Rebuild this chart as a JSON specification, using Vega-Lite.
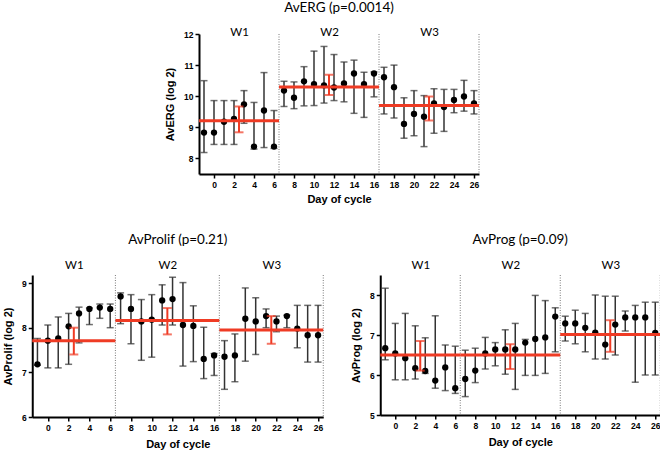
{
  "$schema": "https://vega.github.io/schema/vega-lite/v6.json",
  "padding": {"left": 2, "top": 0, "right": 0, "bottom": 0},
  "background": "white",
  "datasets": {
    "erg": [
      {"day": -1, "value": 8.83, "lower": 8.19, "upper": 10.5},
      {"day": 0, "value": 8.83, "lower": 8.45, "upper": 9.86},
      {"day": 1, "value": 9.18, "lower": 8.45, "upper": 9.86},
      {"day": 2, "value": 9.27, "lower": 8.45, "upper": 9.86},
      {"day": 3, "value": 9.74, "lower": 9.13, "upper": 10.18},
      {"day": 4, "value": 8.38, "lower": 8.3, "upper": 9.8},
      {"day": 5, "value": 9.54, "lower": 8.35, "upper": 10.76},
      {"day": 6, "value": 8.38, "lower": 8.32, "upper": 9.54},
      {"day": 7, "value": 10.18, "lower": 9.67, "upper": 10.48},
      {"day": 8, "value": 9.95, "lower": 9.6, "upper": 10.46},
      {"day": 9, "value": 10.48, "lower": 9.69, "upper": 10.95},
      {"day": 10, "value": 10.39, "lower": 9.7, "upper": 11.45},
      {"day": 11, "value": 10.35, "lower": 9.78, "upper": 11.6},
      {"day": 12, "value": 10.28, "lower": 9.86, "upper": 11.34},
      {"day": 13, "value": 10.41, "lower": 9.82, "upper": 11.1},
      {"day": 14, "value": 10.73, "lower": 9.45, "upper": 11.16},
      {"day": 15, "value": 10.39, "lower": 9.32, "upper": 10.77},
      {"day": 16, "value": 10.73, "lower": 9.98, "upper": 10.78},
      {"day": 17, "value": 10.61, "lower": 9.43, "upper": 10.93},
      {"day": 18, "value": 10.29, "lower": 9.3, "upper": 11.0},
      {"day": 19, "value": 9.11, "lower": 8.65, "upper": 9.95},
      {"day": 20, "value": 9.43, "lower": 8.73, "upper": 10.18},
      {"day": 21, "value": 9.34, "lower": 8.38, "upper": 10.02},
      {"day": 22, "value": 9.77, "lower": 8.81, "upper": 10.24},
      {"day": 23, "value": 9.65, "lower": 8.87, "upper": 10.22},
      {"day": 24, "value": 9.88, "lower": 9.47, "upper": 10.22},
      {"day": 25, "value": 9.99, "lower": 9.52, "upper": 10.51},
      {"day": 26, "value": 9.77, "lower": 9.43, "upper": 10.18}
    ],
    "erg_weeks": [
      {"week": "W1", "start": -1.5, "end": 6.5, "mid": 2.5, "mean": 9.21, "lo": 8.84, "hi": 9.67},
      {"week": "W2", "start": 6.5, "end": 16.5, "mid": 11.5, "mean": 10.3, "lo": 10.04, "hi": 10.69},
      {"week": "W3", "start": 16.5, "end": 26.5, "mid": 21.5, "mean": 9.7, "lo": 9.22, "hi": 9.99}
    ],
    "prolif": [
      {"day": -1, "value": 7.18, "lower": 7.16, "upper": 7.76},
      {"day": 0, "value": 7.71, "lower": 7.1, "upper": 8.06},
      {"day": 1, "value": 7.76, "lower": 7.1, "upper": 8.24},
      {"day": 2, "value": 8.03, "lower": 7.18, "upper": 8.32},
      {"day": 3, "value": 8.32, "lower": 7.66, "upper": 8.46},
      {"day": 4, "value": 8.42, "lower": 8.07, "upper": 8.44},
      {"day": 5, "value": 8.45, "lower": 8.21, "upper": 8.53},
      {"day": 6, "value": 8.42, "lower": 8.0, "upper": 8.53},
      {"day": 7, "value": 8.7, "lower": 8.09, "upper": 8.78},
      {"day": 8, "value": 8.42, "lower": 7.64, "upper": 8.74},
      {"day": 9, "value": 8.14, "lower": 7.27, "upper": 8.63},
      {"day": 10, "value": 8.18, "lower": 7.34, "upper": 8.74},
      {"day": 11, "value": 8.61, "lower": 8.06, "upper": 8.96},
      {"day": 12, "value": 8.64, "lower": 8.06, "upper": 9.13},
      {"day": 13, "value": 8.06, "lower": 7.14, "upper": 9.01},
      {"day": 14, "value": 8.04, "lower": 7.24, "upper": 8.49},
      {"day": 15, "value": 7.3, "lower": 6.86, "upper": 8.01},
      {"day": 16, "value": 7.38, "lower": 6.93, "upper": 7.42},
      {"day": 17, "value": 7.35, "lower": 6.62, "upper": 7.71},
      {"day": 18, "value": 7.38, "lower": 6.79, "upper": 7.86},
      {"day": 19, "value": 8.2, "lower": 7.25, "upper": 8.89},
      {"day": 20, "value": 8.14, "lower": 7.4, "upper": 8.67},
      {"day": 21, "value": 8.26, "lower": 8.0, "upper": 8.42},
      {"day": 22, "value": 8.14, "lower": 7.91, "upper": 8.26},
      {"day": 23, "value": 8.26, "lower": 8.0, "upper": 8.28},
      {"day": 24, "value": 7.98, "lower": 7.55, "upper": 8.5},
      {"day": 25, "value": 7.83, "lower": 7.23, "upper": 8.5},
      {"day": 26, "value": 7.83, "lower": 7.23, "upper": 8.5}
    ],
    "prolif_weeks": [
      {"week": "W1", "start": -1.5, "end": 6.5, "mid": 2.5, "mean": 7.71, "lo": 7.4, "hi": 8.0},
      {"week": "W2", "start": 6.5, "end": 16.5, "mid": 11.5, "mean": 8.16, "lo": 7.85, "hi": 8.44},
      {"week": "W3", "start": 16.5, "end": 26.5, "mid": 21.5, "mean": 7.95, "lo": 7.64, "hi": 8.26}
    ],
    "prog": [
      {"day": -1, "value": 6.67, "lower": 6.38, "upper": 8.17},
      {"day": 0, "value": 6.54, "lower": 5.88, "upper": 7.29},
      {"day": 1, "value": 6.42, "lower": 5.88, "upper": 7.54},
      {"day": 2, "value": 6.17, "lower": 5.9, "upper": 7.23},
      {"day": 3, "value": 6.1, "lower": 6.04, "upper": 6.93},
      {"day": 4, "value": 5.86, "lower": 5.67, "upper": 7.48},
      {"day": 5, "value": 6.19, "lower": 5.61, "upper": 6.75},
      {"day": 6, "value": 5.67, "lower": 5.54, "upper": 6.72},
      {"day": 7, "value": 5.9, "lower": 5.46, "upper": 6.62},
      {"day": 8, "value": 6.11, "lower": 5.81, "upper": 6.67},
      {"day": 9, "value": 6.54, "lower": 6.15, "upper": 6.94},
      {"day": 10, "value": 6.64, "lower": 6.23, "upper": 6.81},
      {"day": 11, "value": 6.64, "lower": 6.02, "upper": 7.13},
      {"day": 12, "value": 6.64, "lower": 5.64, "upper": 7.29},
      {"day": 13, "value": 6.81, "lower": 5.99, "upper": 6.89},
      {"day": 14, "value": 6.9, "lower": 5.99, "upper": 7.99},
      {"day": 15, "value": 6.94, "lower": 6.04, "upper": 7.86},
      {"day": 16, "value": 7.46, "lower": 6.58, "upper": 7.68},
      {"day": 17, "value": 7.29, "lower": 6.85, "upper": 7.47},
      {"day": 18, "value": 7.29, "lower": 6.78, "upper": 7.62},
      {"day": 19, "value": 7.18, "lower": 6.58, "upper": 7.54},
      {"day": 20, "value": 7.06, "lower": 6.4, "upper": 8.0},
      {"day": 21, "value": 6.76, "lower": 6.4, "upper": 7.97},
      {"day": 22, "value": 7.26, "lower": 6.5, "upper": 7.97},
      {"day": 23, "value": 7.44, "lower": 7.1, "upper": 7.6},
      {"day": 24, "value": 7.44, "lower": 5.82, "upper": 7.74},
      {"day": 25, "value": 7.44, "lower": 6.0, "upper": 7.82},
      {"day": 26, "value": 7.05, "lower": 6.0, "upper": 7.82}
    ],
    "prog_weeks": [
      {"week": "W1", "start": -1.5, "end": 6.5, "mid": 2.5, "mean": 6.5, "lo": 6.11, "hi": 6.85},
      {"week": "W2", "start": 6.5, "end": 16.5, "mid": 11.5, "mean": 6.5, "lo": 6.15, "hi": 6.77},
      {"week": "W3", "start": 16.5, "end": 26.5, "mid": 21.5, "mean": 7.01, "lo": 6.58, "hi": 7.37}
    ]
  },
  "config": {
    "view": {"stroke": null},
    "title": {"font": "Lato", "fontSize": 13.5, "fontWeight": "normal", "color": "black", "offset": 9},
    "axis": {
      "grid": false,
      "domain": true,
      "domainColor": "#000000", "domainWidth": 2,
      "tickColor": "black", "tickWidth": 1.5, "tickSize": 4,
      "labelFont": "Liberation Sans", "labelFontWeight": "bold", "labelFontSize": 8.5, "labelColor": "black", "labelPadding": 2,
      "labelOverlap": false,
      "titleFont": "Liberation Sans", "titleFontWeight": "bold", "titleFontSize": 11, "titleColor": "black",
      "zindex": 1
    },
    "axisX": {"titlePadding": 7},
    "axisY": {"titlePadding": 8}
  },
  "vconcat": [
    {
      "spacing": 0,
      "hconcat": [
        {
          "width": 280, "height": 140,
          "title": {"text": "AvERG (p=0.0014)", "offset": 12},
          "resolve": {"axis": {"x": "independent"}},
          "layer": [
            {"data": {"name": "erg"},
             "mark": {"type": "rule", "color": "#333333", "strokeWidth": 1.5},
             "encoding": {"x": {"field": "day", "type": "quantitative", "scale": {"domain": [-1.5, 26.5], "nice": false, "zero": false}, "axis": {"orient": "bottom", "values": [0, 2, 4, 6, 8, 10, 12, 14, 16, 18, 20, 22, 24, 26], "title": "Day of cycle", "titlePadding": 5}},
                          "y": {"field": "lower", "type": "quantitative", "scale": {"domain": [7.5, 12], "nice": false, "zero": false}, "axis": {"values": [8, 9, 10, 11, 12], "tickCount": 5, "labelOverlap": false, "title": "AvERG (log 2)"}},
                          "y2": {"field": "upper"}}},
            {"data": {"name": "erg_weeks"},
             "mark": {"type": "rule", "color": "#7a7a7a", "strokeWidth": 1, "strokeDash": [1, 1.5]},
             "encoding": {"x": {"field": "end", "type": "quantitative", "axis": null}}},
            {"data": {"name": "erg"},
             "mark": {"type": "tick", "orient": "horizontal", "color": "#333333", "size": 7, "thickness": 1.5},
             "encoding": {"x": {"field": "day", "type": "quantitative", "axis": null}, "y": {"field": "lower", "type": "quantitative"}}},
            {"data": {"name": "erg"},
             "mark": {"type": "tick", "orient": "horizontal", "color": "#333333", "size": 7, "thickness": 1.5},
             "encoding": {"x": {"field": "day", "type": "quantitative", "axis": null}, "y": {"field": "upper", "type": "quantitative"}}},
            {"data": {"name": "erg"},
             "mark": {"type": "circle", "size": 40, "color": "black", "opacity": 1},
             "encoding": {"x": {"field": "day", "type": "quantitative", "axis": null},
                          "y": {"field": "value", "type": "quantitative"}}},
            {"data": {"name": "erg_weeks"},
             "mark": {"type": "rule", "color": "#ef3b24", "strokeWidth": 3},
             "encoding": {"x": {"field": "start", "type": "quantitative", "axis": null}, "x2": {"field": "end"}, "y": {"field": "mean", "type": "quantitative"}}},
            {"data": {"name": "erg_weeks"},
             "mark": {"type": "rule", "color": "#ef3b24", "strokeWidth": 2},
             "encoding": {"x": {"field": "mid", "type": "quantitative", "axis": {"orient": "top", "values": [2.5, 11.5, 21.5], "labelExpr": "datum.value < 7 ? 'W1' : datum.value < 17 ? 'W2' : 'W3'", "domain": false, "ticks": false, "title": null, "labelFont": "Lato", "labelFontSize": 11.5, "labelFontWeight": "normal", "labelPadding": -3}},
                          "y": {"field": "lo", "type": "quantitative"}, "y2": {"field": "hi"}}},
            {"data": {"name": "erg_weeks"},
             "mark": {"type": "tick", "orient": "horizontal", "color": "#ef3b24", "size": 9, "thickness": 2},
             "encoding": {"x": {"field": "mid", "type": "quantitative", "axis": null}, "y": {"field": "lo", "type": "quantitative"}}},
            {"data": {"name": "erg_weeks"},
             "mark": {"type": "tick", "orient": "horizontal", "color": "#ef3b24", "size": 9, "thickness": 2},
             "encoding": {"x": {"field": "mid", "type": "quantitative", "axis": null}, "y": {"field": "hi", "type": "quantitative"}}},
            {"mark": {"type": "rule", "color": "black", "strokeWidth": 2, "strokeCap": "square"},
             "encoding": {"x": {"datum": -1.5, "type": "quantitative", "axis": null}}},
            {"mark": {"type": "rule", "color": "black", "strokeWidth": 2, "strokeCap": "square"},
             "encoding": {"y": {"datum": 7.5, "type": "quantitative"}}}
          ]
        },
        {"width": 14, "height": 140, "data": {"values": []}, "mark": {"type": "point", "opacity": 0}}
      ]
    },
    {
      "spacing": 25,
      "hconcat": [
        {
          "width": 291, "height": 142,
          "title": {"text": "AvProlif (p=0.21)", "offset": 13},
          "resolve": {"axis": {"x": "independent"}},
          "layer": [
            {"data": {"name": "prolif"},
             "mark": {"type": "rule", "color": "#333333", "strokeWidth": 1.5},
             "encoding": {"x": {"field": "day", "type": "quantitative", "scale": {"domain": [-1.5, 26.5], "nice": false, "zero": false}, "axis": {"orient": "bottom", "values": [0, 2, 4, 6, 8, 10, 12, 14, 16, 18, 20, 22, 24, 26], "title": "Day of cycle"}},
                          "y": {"field": "lower", "type": "quantitative", "scale": {"domain": [6, 9.18], "nice": false, "zero": false}, "axis": {"values": [6, 7, 8, 9], "tickCount": 4, "labelOverlap": false, "title": "AvProlif (log 2)"}},
                          "y2": {"field": "upper"}}},
            {"data": {"name": "prolif_weeks"},
             "mark": {"type": "rule", "color": "#7a7a7a", "strokeWidth": 1, "strokeDash": [1, 1.5]},
             "encoding": {"x": {"field": "end", "type": "quantitative", "axis": null}}},
            {"data": {"name": "prolif"},
             "mark": {"type": "tick", "orient": "horizontal", "color": "#333333", "size": 7, "thickness": 1.5},
             "encoding": {"x": {"field": "day", "type": "quantitative", "axis": null}, "y": {"field": "lower", "type": "quantitative"}}},
            {"data": {"name": "prolif"},
             "mark": {"type": "tick", "orient": "horizontal", "color": "#333333", "size": 7, "thickness": 1.5},
             "encoding": {"x": {"field": "day", "type": "quantitative", "axis": null}, "y": {"field": "upper", "type": "quantitative"}}},
            {"data": {"name": "prolif"},
             "mark": {"type": "circle", "size": 40, "color": "black", "opacity": 1},
             "encoding": {"x": {"field": "day", "type": "quantitative", "axis": null},
                          "y": {"field": "value", "type": "quantitative"}}},
            {"data": {"name": "prolif_weeks"},
             "mark": {"type": "rule", "color": "#ef3b24", "strokeWidth": 3},
             "encoding": {"x": {"field": "start", "type": "quantitative", "axis": null}, "x2": {"field": "end"}, "y": {"field": "mean", "type": "quantitative"}}},
            {"data": {"name": "prolif_weeks"},
             "mark": {"type": "rule", "color": "#ef3b24", "strokeWidth": 2},
             "encoding": {"x": {"field": "mid", "type": "quantitative", "axis": {"orient": "top", "values": [2.5, 11.5, 21.5], "labelExpr": "datum.value < 7 ? 'W1' : datum.value < 17 ? 'W2' : 'W3'", "domain": false, "ticks": false, "title": null, "labelFont": "Lato", "labelFontSize": 11.5, "labelFontWeight": "normal", "labelPadding": 5}},
                          "y": {"field": "lo", "type": "quantitative"}, "y2": {"field": "hi"}}},
            {"data": {"name": "prolif_weeks"},
             "mark": {"type": "tick", "orient": "horizontal", "color": "#ef3b24", "size": 9, "thickness": 2},
             "encoding": {"x": {"field": "mid", "type": "quantitative", "axis": null}, "y": {"field": "lo", "type": "quantitative"}}},
            {"data": {"name": "prolif_weeks"},
             "mark": {"type": "tick", "orient": "horizontal", "color": "#ef3b24", "size": 9, "thickness": 2},
             "encoding": {"x": {"field": "mid", "type": "quantitative", "axis": null}, "y": {"field": "hi", "type": "quantitative"}}},
            {"mark": {"type": "rule", "color": "black", "strokeWidth": 2, "strokeCap": "square"},
             "encoding": {"x": {"datum": -1.5, "type": "quantitative", "axis": null}}},
            {"mark": {"type": "rule", "color": "black", "strokeWidth": 2, "strokeCap": "square"},
             "encoding": {"y": {"datum": 6, "type": "quantitative"}}}
          ]
        },
        {
          "width": 280, "height": 140,
          "title": {"text": "AvProg (p=0.09)", "offset": 13},
          "resolve": {"axis": {"x": "independent"}},
          "layer": [
            {"data": {"name": "prog"},
             "mark": {"type": "rule", "color": "#333333", "strokeWidth": 1.5},
             "encoding": {"x": {"field": "day", "type": "quantitative", "scale": {"domain": [-1.5, 26.5], "nice": false, "zero": false}, "axis": {"orient": "bottom", "values": [0, 2, 4, 6, 8, 10, 12, 14, 16, 18, 20, 22, 24, 26], "title": "Day of cycle"}},
                          "y": {"field": "lower", "type": "quantitative", "scale": {"domain": [5, 8.5], "nice": false, "zero": false}, "axis": {"values": [5, 6, 7, 8], "tickCount": 4, "labelOverlap": false, "title": "AvProg (log 2)"}},
                          "y2": {"field": "upper"}}},
            {"data": {"name": "prog_weeks"},
             "mark": {"type": "rule", "color": "#7a7a7a", "strokeWidth": 1, "strokeDash": [1, 1.5]},
             "encoding": {"x": {"field": "end", "type": "quantitative", "axis": null}}},
            {"data": {"name": "prog"},
             "mark": {"type": "tick", "orient": "horizontal", "color": "#333333", "size": 7, "thickness": 1.5},
             "encoding": {"x": {"field": "day", "type": "quantitative", "axis": null}, "y": {"field": "lower", "type": "quantitative"}}},
            {"data": {"name": "prog"},
             "mark": {"type": "tick", "orient": "horizontal", "color": "#333333", "size": 7, "thickness": 1.5},
             "encoding": {"x": {"field": "day", "type": "quantitative", "axis": null}, "y": {"field": "upper", "type": "quantitative"}}},
            {"data": {"name": "prog"},
             "mark": {"type": "circle", "size": 40, "color": "black", "opacity": 1},
             "encoding": {"x": {"field": "day", "type": "quantitative", "axis": null},
                          "y": {"field": "value", "type": "quantitative"}}},
            {"data": {"name": "prog_weeks"},
             "mark": {"type": "rule", "color": "#ef3b24", "strokeWidth": 3},
             "encoding": {"x": {"field": "start", "type": "quantitative", "axis": null}, "x2": {"field": "end"}, "y": {"field": "mean", "type": "quantitative"}}},
            {"data": {"name": "prog_weeks"},
             "mark": {"type": "rule", "color": "#ef3b24", "strokeWidth": 2},
             "encoding": {"x": {"field": "mid", "type": "quantitative", "axis": {"orient": "top", "values": [2.5, 11.5, 21.5], "labelExpr": "datum.value < 7 ? 'W1' : datum.value < 17 ? 'W2' : 'W3'", "domain": false, "ticks": false, "title": null, "labelFont": "Lato", "labelFontSize": 11.5, "labelFontWeight": "normal", "labelPadding": 5}},
                          "y": {"field": "lo", "type": "quantitative"}, "y2": {"field": "hi"}}},
            {"data": {"name": "prog_weeks"},
             "mark": {"type": "tick", "orient": "horizontal", "color": "#ef3b24", "size": 9, "thickness": 2},
             "encoding": {"x": {"field": "mid", "type": "quantitative", "axis": null}, "y": {"field": "lo", "type": "quantitative"}}},
            {"data": {"name": "prog_weeks"},
             "mark": {"type": "tick", "orient": "horizontal", "color": "#ef3b24", "size": 9, "thickness": 2},
             "encoding": {"x": {"field": "mid", "type": "quantitative", "axis": null}, "y": {"field": "hi", "type": "quantitative"}}},
            {"mark": {"type": "rule", "color": "black", "strokeWidth": 2, "strokeCap": "square"},
             "encoding": {"x": {"datum": -1.5, "type": "quantitative", "axis": null}}},
            {"mark": {"type": "rule", "color": "black", "strokeWidth": 2, "strokeCap": "square"},
             "encoding": {"y": {"datum": 5, "type": "quantitative"}}}
          ]
        }
      ]
    }
  ],
  "spacing": 27,
  "center": true
}
